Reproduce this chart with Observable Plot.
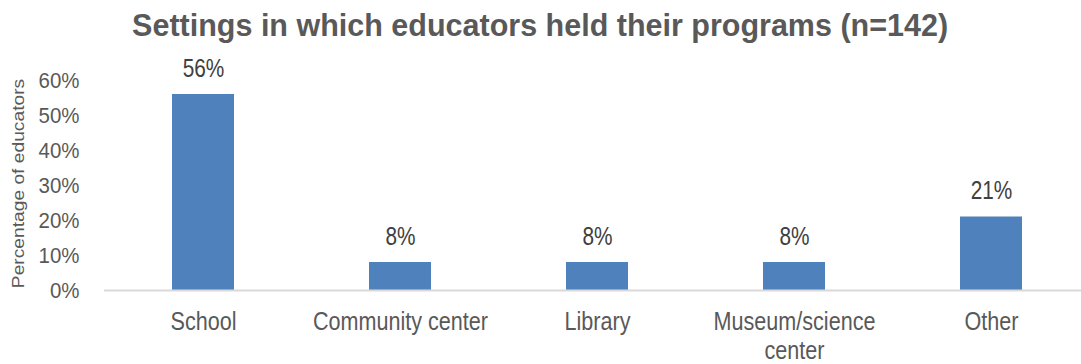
<!DOCTYPE html>
<html>
<head>
<meta charset="utf-8">
<script src="https://cdn.jsdelivr.net/npm/d3@7"></script>
<script src="https://cdn.jsdelivr.net/npm/@observablehq/plot@0.6"></script>
<style>
  body { margin: 0; background: #fff; }
  #title { height: 52px; line-height: 50px; text-align: center; width: 1081px; overflow: visible; }
  #title span { display: inline-block; font-family: "Liberation Sans", Arial, sans-serif; font-weight: bold; font-size: 32px; color: #595959; transform: scaleX(0.953); }
  svg { display: block; }
</style>
</head>
<body>
<div id="title"><span>Settings in which educators held their programs (n=142)</span></div>
<div id="chart"></div>
<script>
const categories = ["School", "Community center", "Library", "Museum/science center", "Other"];
const tickLabels = ["School", "Community center", "Library", "Museum/science\ncenter", "Other"];
const values = [56, 8, 8, 8, 21];
const yTicks = [0, 10, 20, 30, 40, 50, 60];
const yTitle = "Percentage of educators";

const data = categories.map((c, i) => ({category: c, value: values[i]}));
const font = "'Liberation Sans', Arial, sans-serif";

const chart = Plot.plot({
  width: 1081,
  height: 312,
  marginTop: 28,
  marginBottom: 74,
  marginLeft: 104,
  marginRight: 0,
  style: {fontFamily: font, color: "#595959", background: "#fff"},
  x: {domain: categories, range: [104, 1090], paddingInner: 0.685, paddingOuter: 0.3425, label: null},
  y: {domain: [0, 60], label: null},
  marks: [
    Plot.barY(data, {x: "category", y: "value", fill: "#4f81bd"}),
    Plot.ruleY([0], {stroke: "#d9d9d9", strokeWidth: 2}),
    Plot.text(data, {x: "category", y: "value", text: d => d.value + "%", dy: -26, fontSize: 26, fill: "#404040"}),
    Plot.text([yTitle], {frameAnchor: "left", textAnchor: "middle", text: d => d, rotate: -90, dx: -86, dy: -2, fontSize: 17, fill: "#595959"}),
    Plot.axisX({tickSize: 0, tickPadding: 19, fontSize: 26, lineHeight: 1.12, tickFormat: d => tickLabels[categories.indexOf(d)], label: null}),
    Plot.axisY({ticks: yTicks, tickSize: 0, tickPadding: 25, fontSize: 22, tickFormat: d => d + "%", label: null})
  ]
});
document.getElementById("chart").appendChild(chart);

function squeeze(nodes, factor) {
  nodes.forEach(t => {
    const spans = t.querySelectorAll("tspan");
    const els = spans.length ? Array.from(spans) : [t];
    els.forEach(e => {
      const L = e.getComputedTextLength();
      e.setAttribute("textLength", L * factor);
      e.setAttribute("lengthAdjust", "spacingAndGlyphs");
    });
  });
}
const textGroups = chart.querySelectorAll('g[aria-label="text"]');
squeeze(textGroups[0].querySelectorAll("text"), 0.8);
squeeze(textGroups[1].querySelectorAll("text"), 1.13);
squeeze(chart.querySelectorAll('g[aria-label="x-axis tick label"] text'), 0.83);
squeeze(chart.querySelectorAll('g[aria-label="y-axis tick label"] text'), 0.93);
</script>
</body>
</html>
